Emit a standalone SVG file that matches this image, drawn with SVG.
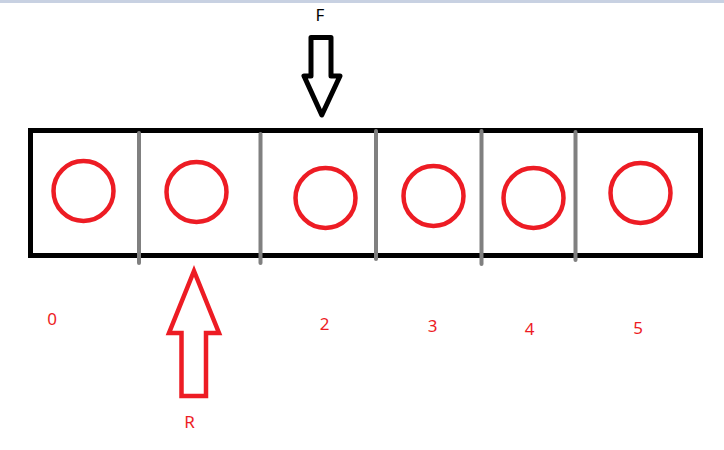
<svg xmlns="http://www.w3.org/2000/svg" width="724" height="450" viewBox="0 0 724 450">
<style>
.lbl{font-family:"Noto Sans","Liberation Sans",sans-serif;font-size:17px;text-anchor:middle}
.red{fill:#ed1c24}
.cell{fill:none;stroke:#ed1c24;stroke-width:4.5}
.div{stroke:#808080;stroke-width:4;stroke-linecap:round}
</style>
<rect x="0" y="0" width="724" height="3" fill="#c8d1e2"/>
<g id="array">
<rect x="30.5" y="130.5" width="670" height="125" fill="#fff" stroke="#000" stroke-width="5"/>
</g>
<g id="dividers">
<line class="div" x1="139" y1="133" x2="139" y2="263"/>
<line class="div" x1="260.5" y1="134" x2="260.5" y2="263"/>
<line class="div" x1="376" y1="131" x2="376" y2="259"/>
<line class="div" x1="481.5" y1="131" x2="481.5" y2="264"/>
<line class="div" x1="575.5" y1="132" x2="575.5" y2="260"/>
</g>
<g id="cell0"><circle class="cell" cx="83.5" cy="191" r="30"/><text class="lbl red" x="52" y="325">0</text></g>
<g id="cell1"><circle class="cell" cx="196.5" cy="192" r="30"/></g>
<g id="cell2"><circle class="cell" cx="325.5" cy="198" r="30"/><text class="lbl red" x="324.5" y="330">2</text></g>
<g id="cell3"><circle class="cell" cx="433.5" cy="196" r="30"/><text class="lbl red" x="432.5" y="332">3</text></g>
<g id="cell4"><circle class="cell" cx="533.5" cy="198" r="30"/><text class="lbl red" x="529.5" y="335">4</text></g>
<g id="cell5"><circle class="cell" cx="640.5" cy="193" r="30"/><text class="lbl red" x="638" y="334">5</text></g>
<g id="connectors">
<g id="F">
<text class="lbl" x="320" y="21" fill="#000">F</text>
<path d="M311,37.5 H331 V76 H340 L321.8,115 L304,76 H311 Z" fill="#fff" stroke="#000" stroke-width="5" stroke-linejoin="round"/>
</g>
<g id="R">
<path d="M194,271 L219,333 H206 V396 H181.5 V333 H169 Z" fill="#fff" stroke="#ed1c24" stroke-width="4.5" stroke-linejoin="miter"/>
<text class="lbl red" x="189.5" y="428">R</text>
</g>
</g>
</svg>
